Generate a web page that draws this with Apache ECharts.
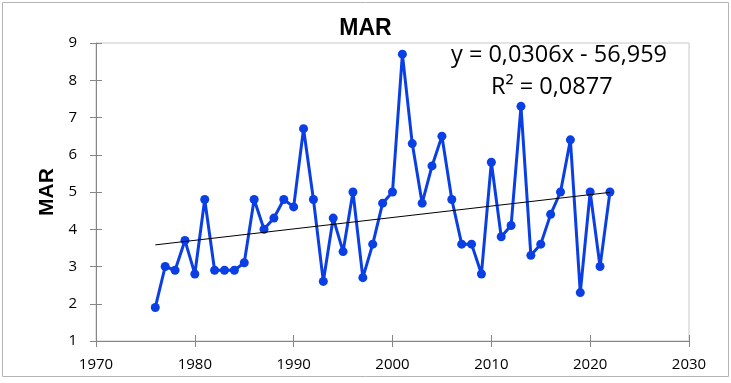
<!DOCTYPE html>
<html>
<head>
<meta charset="utf-8">
<script src="https://cdn.jsdelivr.net/npm/echarts@6/dist/echarts.min.js"></script>
<style>
html,body{margin:0;padding:0;background:#fff;}
#container{width:731px;height:383px;}
</style>
</head>
<body>
<div id="container"></div>
<script>
// MAR 数据
var years = [1976,1977,1978,1979,1980,1981,1982,1983,1984,1985,1986,1987,1988,1989,1990,
    1991,1992,1993,1994,1995,1996,1997,1998,1999,2000,2001,2002,2003,2004,2005,2006,
    2007,2008,2009,2010,2011,2012,2013,2014,2015,2016,2017,2018,2019,2020,2021,2022];
var marValues = [1.9,3.0,2.9,3.7,2.8,4.8,2.9,2.9,2.9,3.1,4.8,4.0,4.3,4.8,4.6,
    6.7,4.8,2.6,4.3,3.4,5.0,2.7,3.6,4.7,5.0,8.7,6.3,4.7,5.7,6.5,4.8,
    3.6,3.6,2.8,5.8,3.8,4.1,7.3,3.3,3.6,4.4,5.0,6.4,2.3,5.0,3.0,5.0];
// 趋势线端点
var trendX = [1976, 2022];
var trendY = [3.58, 4.99];
var equationText = 'y = 0,0306x - 56,959';
var r2Text = 'R² = 0,0877';

var dom = document.getElementById("container");
var myChart = echarts.init(dom);
var option;

var data = [];
for (var i = 0; i < years.length; i++) {
    data.push([years[i], marValues[i]]);
}
var trend = [];
for (var j = 0; j < trendX.length; j++) {
    trend.push([trendX[j], trendY[j]]);
}

var axisColor = '#868686';
var font = 'Open Sans';
var boldFont = 'Liberation Sans';

option = {
    animation: false,
    title: {
        text: 'MAR',
        left: 'center',
        top: 12,
        textStyle: { fontFamily: boldFont, fontSize: 23, fontWeight: 'bold', color: '#000' }
    },
    grid: {
        left: 96, right: 42, top: 43, bottom: 42,
        show: true, borderColor: '#c8c8c8', borderWidth: 1
    },
    graphic: [
        {
            type: 'rect', shape: { x: 2.5, y: 2.5, width: 726, height: 374 },
            style: { fill: null, stroke: '#b4b4b4', lineWidth: 1 }, silent: true
        },
        {
            type: 'text', left: 451, top: 43,
            style: { text: equationText, font: '23.5px "' + font + '"', fill: '#000' }
        },
        {
            type: 'text', left: 491, top: 75,
            style: { text: r2Text, font: '23.5px "' + font + '"', fill: '#000' }
        }
    ],
    xAxis: [{
        type: 'value', min: 1970, max: 2030, interval: 10,
        axisLine: { lineStyle: { color: axisColor, width: 1 } },
        axisTick: { length: 6, lineStyle: { color: axisColor } },
        splitLine: { show: false },
        axisLabel: {
            color: '#000', fontFamily: font, fontSize: 15, margin: 16,
            formatter: function (v) { return String(v); }
        }
    }, {
        type: 'value', min: 1970, max: 2030, interval: 10, position: 'bottom',
        axisLine: { show: false },
        axisTick: { inside: true, length: 6, lineStyle: { color: axisColor } },
        splitLine: { show: false },
        axisLabel: { show: false }
    }],
    yAxis: [{
        type: 'value', min: 1, max: 9, interval: 1,
        name: 'MAR', nameLocation: 'middle', nameGap: 38,
        nameTextStyle: { fontFamily: boldFont, fontSize: 21, fontWeight: 'bold', color: '#000' },
        axisLine: { show: true, lineStyle: { color: axisColor, width: 1 } },
        axisTick: { show: true, length: 6, lineStyle: { color: axisColor } },
        splitLine: { show: false },
        axisLabel: { color: '#000', fontFamily: font, fontSize: 15, margin: 19 }
    }, {
        type: 'value', min: 1, max: 9, interval: 1, position: 'left',
        axisLine: { show: false },
        axisTick: { show: true, inside: true, length: 6, lineStyle: { color: axisColor } },
        splitLine: { show: false },
        axisLabel: { show: false }
    }],
    series: [{
        name: 'MAR',
        type: 'line',
        data: data,
        symbol: 'circle',
        symbolSize: 9,
        itemStyle: { color: '#0b3fe6' },
        lineStyle: { color: '#0b3fe6', width: 3 },
        z: 3
    }, {
        name: 'trend',
        type: 'line',
        data: trend,
        symbol: 'none',
        lineStyle: { color: '#000', width: 1 },
        z: 4
    }]
};

if (option && typeof option === 'object') {
    myChart.setOption(option);
}
</script>
</body>
</html>
